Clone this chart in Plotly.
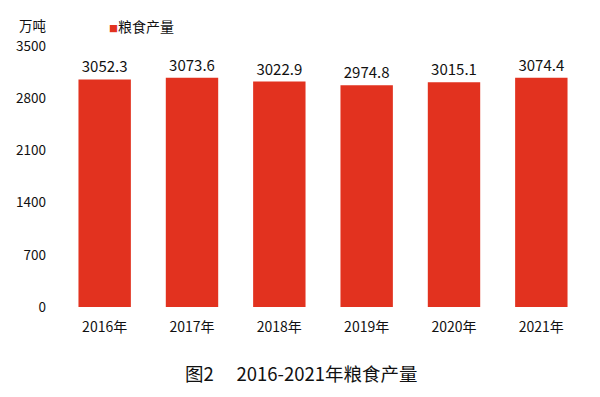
import plotly.graph_objects as go

years = ["2016年", "2017年", "2018年", "2019年", "2020年", "2021年"]
output = [3052.3, 3073.6, 3022.9, 2974.8, 3015.1, 3074.4]
y_ticks = [0, 700, 1400, 2100, 2800, 3500]

FONT = "Noto Sans CJK SC"
RED = "#e2321f"
L, R, T, B = 61, 15, 46, 90
PW = 600 - L - R

fig = go.Figure()
fig.add_trace(go.Bar(
    x=years, y=output, name="粮食产量",
    marker=dict(color=RED, line=dict(width=0)),
    text=[f"{v:.1f}" for v in output], textposition="outside",
    textfont=dict(family=FONT, size=15, color="#111"),
    cliponaxis=False,
))

fig.update_layout(
    width=600, height=397,
    margin=dict(l=L, r=R, t=T, b=B),
    paper_bgcolor="white", plot_bgcolor="white",
    bargap=0.4,
    font=dict(family=FONT, size=14, color="#111"),
    showlegend=False,
    xaxis=dict(showline=False, showgrid=False, ticks="", tickfont=dict(size=14),
               ticklabelstandoff=10),
    yaxis=dict(range=[0, 3500], tickvals=y_ticks, showgrid=False, showline=False,
               zeroline=False, ticks="", tickfont=dict(size=13.5), ticklabelstandoff=14),
    annotations=[
        dict(text="万吨", x=(17 - L) / PW, xref="paper", xanchor="left",
             y=1, yref="paper", yanchor="middle", yshift=46 - 25, showarrow=False,
             font=dict(family=FONT, size=13.5, color="#111")),
        dict(text=f"<span style='color:{RED};font-size:9px'>■</span>粮食产量",
             x=(107 - L) / PW, xref="paper", xanchor="left",
             y=1, yref="paper", yanchor="middle", yshift=46 - 26, showarrow=False,
             font=dict(family=FONT, size=14, color="#111")),
        dict(text="图2　 2016-2021年粮食产量", x=(301 - L) / PW, xref="paper", xanchor="center",
             y=0, yref="paper", yanchor="middle", yshift=-(373 - 307),
             showarrow=False, font=dict(family=FONT, size=18.5, color="#111")),
    ],
)
fig.write_html("out.html")
